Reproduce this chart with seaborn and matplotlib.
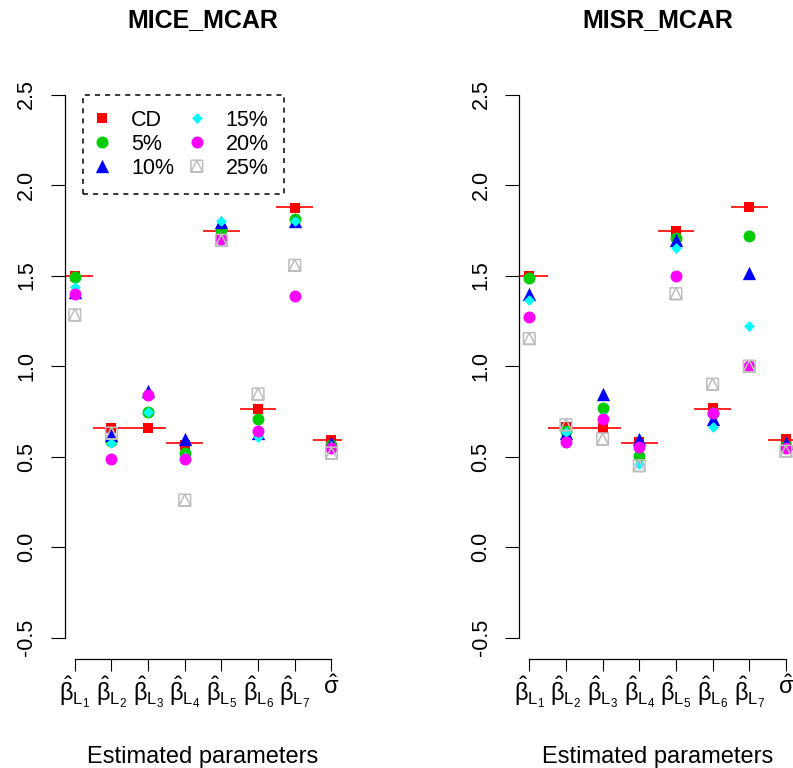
import warnings
warnings.filterwarnings("ignore")
import numpy as np
import pandas as pd
import matplotlib
matplotlib.use("Agg")
import matplotlib.pyplot as plt
from matplotlib.path import Path
from matplotlib.markers import MarkerStyle
import seaborn as sns

# ---------------- data ----------------
param_labels = [r"$\hat{\beta}_{L_1}$", r"$\hat{\beta}_{L_2}$", r"$\hat{\beta}_{L_3}$",
                r"$\hat{\beta}_{L_4}$", r"$\hat{\beta}_{L_5}$", r"$\hat{\beta}_{L_6}$",
                r"$\hat{\beta}_{L_7}$", r"$\hat{\sigma}$"]
param_pos = [1, 2, 3, 4, 5, 6, 7, 8]
true_vals = [1.496, 0.659, 0.656, 0.574, 1.746, 0.765, 1.878, 0.590]

series_names = ["CD", "5%", "10%", "15%", "20%", "25%"]

mice_cd = [1.496, 0.660, 0.657, 0.565, 1.745, 0.765, 1.876, 0.594]
mice_5 = [1.490, 0.585, 0.745, 0.520, 1.750, 0.707, 1.810, 0.565]
mice_10 = [1.410, 0.620, 0.860, 0.600, 1.795, 0.630, 1.800, 0.575]
mice_15 = [1.437, 0.578, 0.745, 0.500, 1.800, 0.610, 1.800, 0.560]
mice_20 = [1.400, 0.485, 0.840, 0.485, 1.700, 0.644, 1.385, 0.550]
mice_25 = [1.283, 0.630, np.nan, 0.260, 1.695, 0.846, 1.557, 0.520]

misr_cd = [1.496, 0.665, 0.656, 0.580, 1.745, 0.770, 1.878, 0.595]
misr_5 = [1.487, 0.640, 0.768, 0.504, 1.710, 0.740, 1.718, 0.560]
misr_10 = [1.400, 0.630, 0.848, 0.598, 1.696, 0.709, 1.515, 0.573]
misr_15 = [1.367, 0.635, 0.720, 0.460, 1.654, 0.663, 1.222, 0.550]
misr_20 = [1.272, 0.583, 0.709, 0.552, 1.496, 0.741, 1.000, 0.550]
misr_25 = [1.152, 0.676, 0.598, 0.450, 1.400, 0.900, 1.000, 0.530]

ytick_vals = [-0.5, 0.0, 0.5, 1.0, 1.5, 2.0, 2.5]
ytick_labels = ["-0.5", "0.0", "0.5", "1.0", "1.5", "2.0", "2.5"]

# ---------------- style ----------------
sns.set_style("ticks")
plt.rcParams["font.family"] = ["Liberation Sans", "DejaVu Sans"]
plt.rcParams["mathtext.fontset"] = "custom"
plt.rcParams["mathtext.rm"] = "Liberation Sans"
plt.rcParams["mathtext.it"] = "Liberation Sans"
plt.rcParams["mathtext.bf"] = "Liberation Sans:bold"
plt.rcParams["axes.unicode_minus"] = False
plt.rcParams["text.color"] = "black"
plt.rcParams["axes.labelcolor"] = "black"
plt.rcParams["xtick.color"] = "black"
plt.rcParams["ytick.color"] = "black"
plt.rcParams["axes.titlecolor"] = "black"

colors = ["#FF0000", "#00CD00", "#0000FF", "#00FFFF", "#FF00FF", "#BEBEBE"]

sq_tri = Path(
    [(-1, -1), (1, -1), (1, 1), (-1, 1), (-1, -1),
     (-1, -1), (0, 1), (1, -1), (-1, -1)],
    [Path.MOVETO, Path.LINETO, Path.LINETO, Path.LINETO, Path.CLOSEPOLY,
     Path.MOVETO, Path.LINETO, Path.LINETO, Path.CLOSEPOLY])
markers = ["s", "o", "^", "D", "o", MarkerStyle(sq_tri, fillstyle="none")]
sizes = [62, 74, 92, 30, 74, 70]

W, H = 793, 768
fig = plt.figure(figsize=(W / 100, H / 100), dpi=100)

ax_w = 277.2
ax_top, ax_bot = 72.8, 659.4
axes = []
for left in (64.5, 519.0):
    axes.append(fig.add_axes([left / W, (H - ax_bot) / H, ax_w / W, (ax_bot - ax_top) / H]))

panels = [
    ("MICE_MCAR", [mice_cd, mice_5, mice_10, mice_15, mice_20, mice_25]),
    ("MISR_MCAR", [misr_cd, misr_5, misr_10, misr_15, misr_20, misr_25]),
]

for k, (ax, (title, data)) in enumerate(zip(axes, panels)):
    ax.hlines(true_vals, np.array(param_pos) - 0.5, np.array(param_pos) + 0.5,
              color="#FF0000", linewidth=1.2, zorder=1)
    for i, (name, vals) in enumerate(zip(series_names, data)):
        kw = dict(x=param_pos, y=vals, ax=ax, marker=markers[i], s=sizes[i],
                  color=colors[i], zorder=2 + i)
        kw["linewidth"] = 1.1 if i == 5 else 0
        if k == 0:
            kw["label"] = name
        sns.scatterplot(**kw)

    ax.set_xlim(0.72, 8.28)
    ax.set_ylim(-0.62, 2.62)
    for s in ("top", "right"):
        ax.spines[s].set_visible(False)
    ax.spines["left"].set_bounds(-0.5, 2.5)
    ax.spines["bottom"].set_bounds(1, 8)
    for s in ("left", "bottom"):
        ax.spines[s].set_linewidth(0.9)
        ax.spines[s].set_color("black")
    ax.set_yticks(ytick_vals)
    ax.set_yticklabels(ytick_labels, rotation=90, va="center", fontsize=15.5)
    ax.set_xticks(param_pos)
    ax.set_xticklabels(param_labels, fontsize=17)
    ax.tick_params(axis="y", length=9.8, width=0.8, pad=10, colors="black")
    ax.tick_params(axis="x", length=8.4, width=0.8, pad=3, colors="black")
    ax.set_xlabel("Estimated parameters", fontsize=17, labelpad=26, color="black")
    ax.set_ylabel("")
    ax.set_title(title, fontsize=18, fontweight="bold", pad=33, color="black")
    ax.grid(False)

leg = axes[0].legend(ncol=2, loc="upper left", bbox_to_anchor=(0.0657, 0.963),
                     borderaxespad=0, fontsize=15.5, frameon=True, fancybox=False,
                     framealpha=1, edgecolor="black", borderpad=0.7, labelspacing=0.14,
                     handlelength=0.4, handletextpad=1.15, columnspacing=0.85,
                     scatterpoints=1, scatteryoffsets=[0.5])
for t in leg.get_texts():
    t.set_color("black")
leg.get_frame().set_linewidth(1.1)
leg.get_frame().set_linestyle((0, (3.3, 3.3)))
leg.set_zorder(20)

fig.savefig("out.png", dpi=100)
